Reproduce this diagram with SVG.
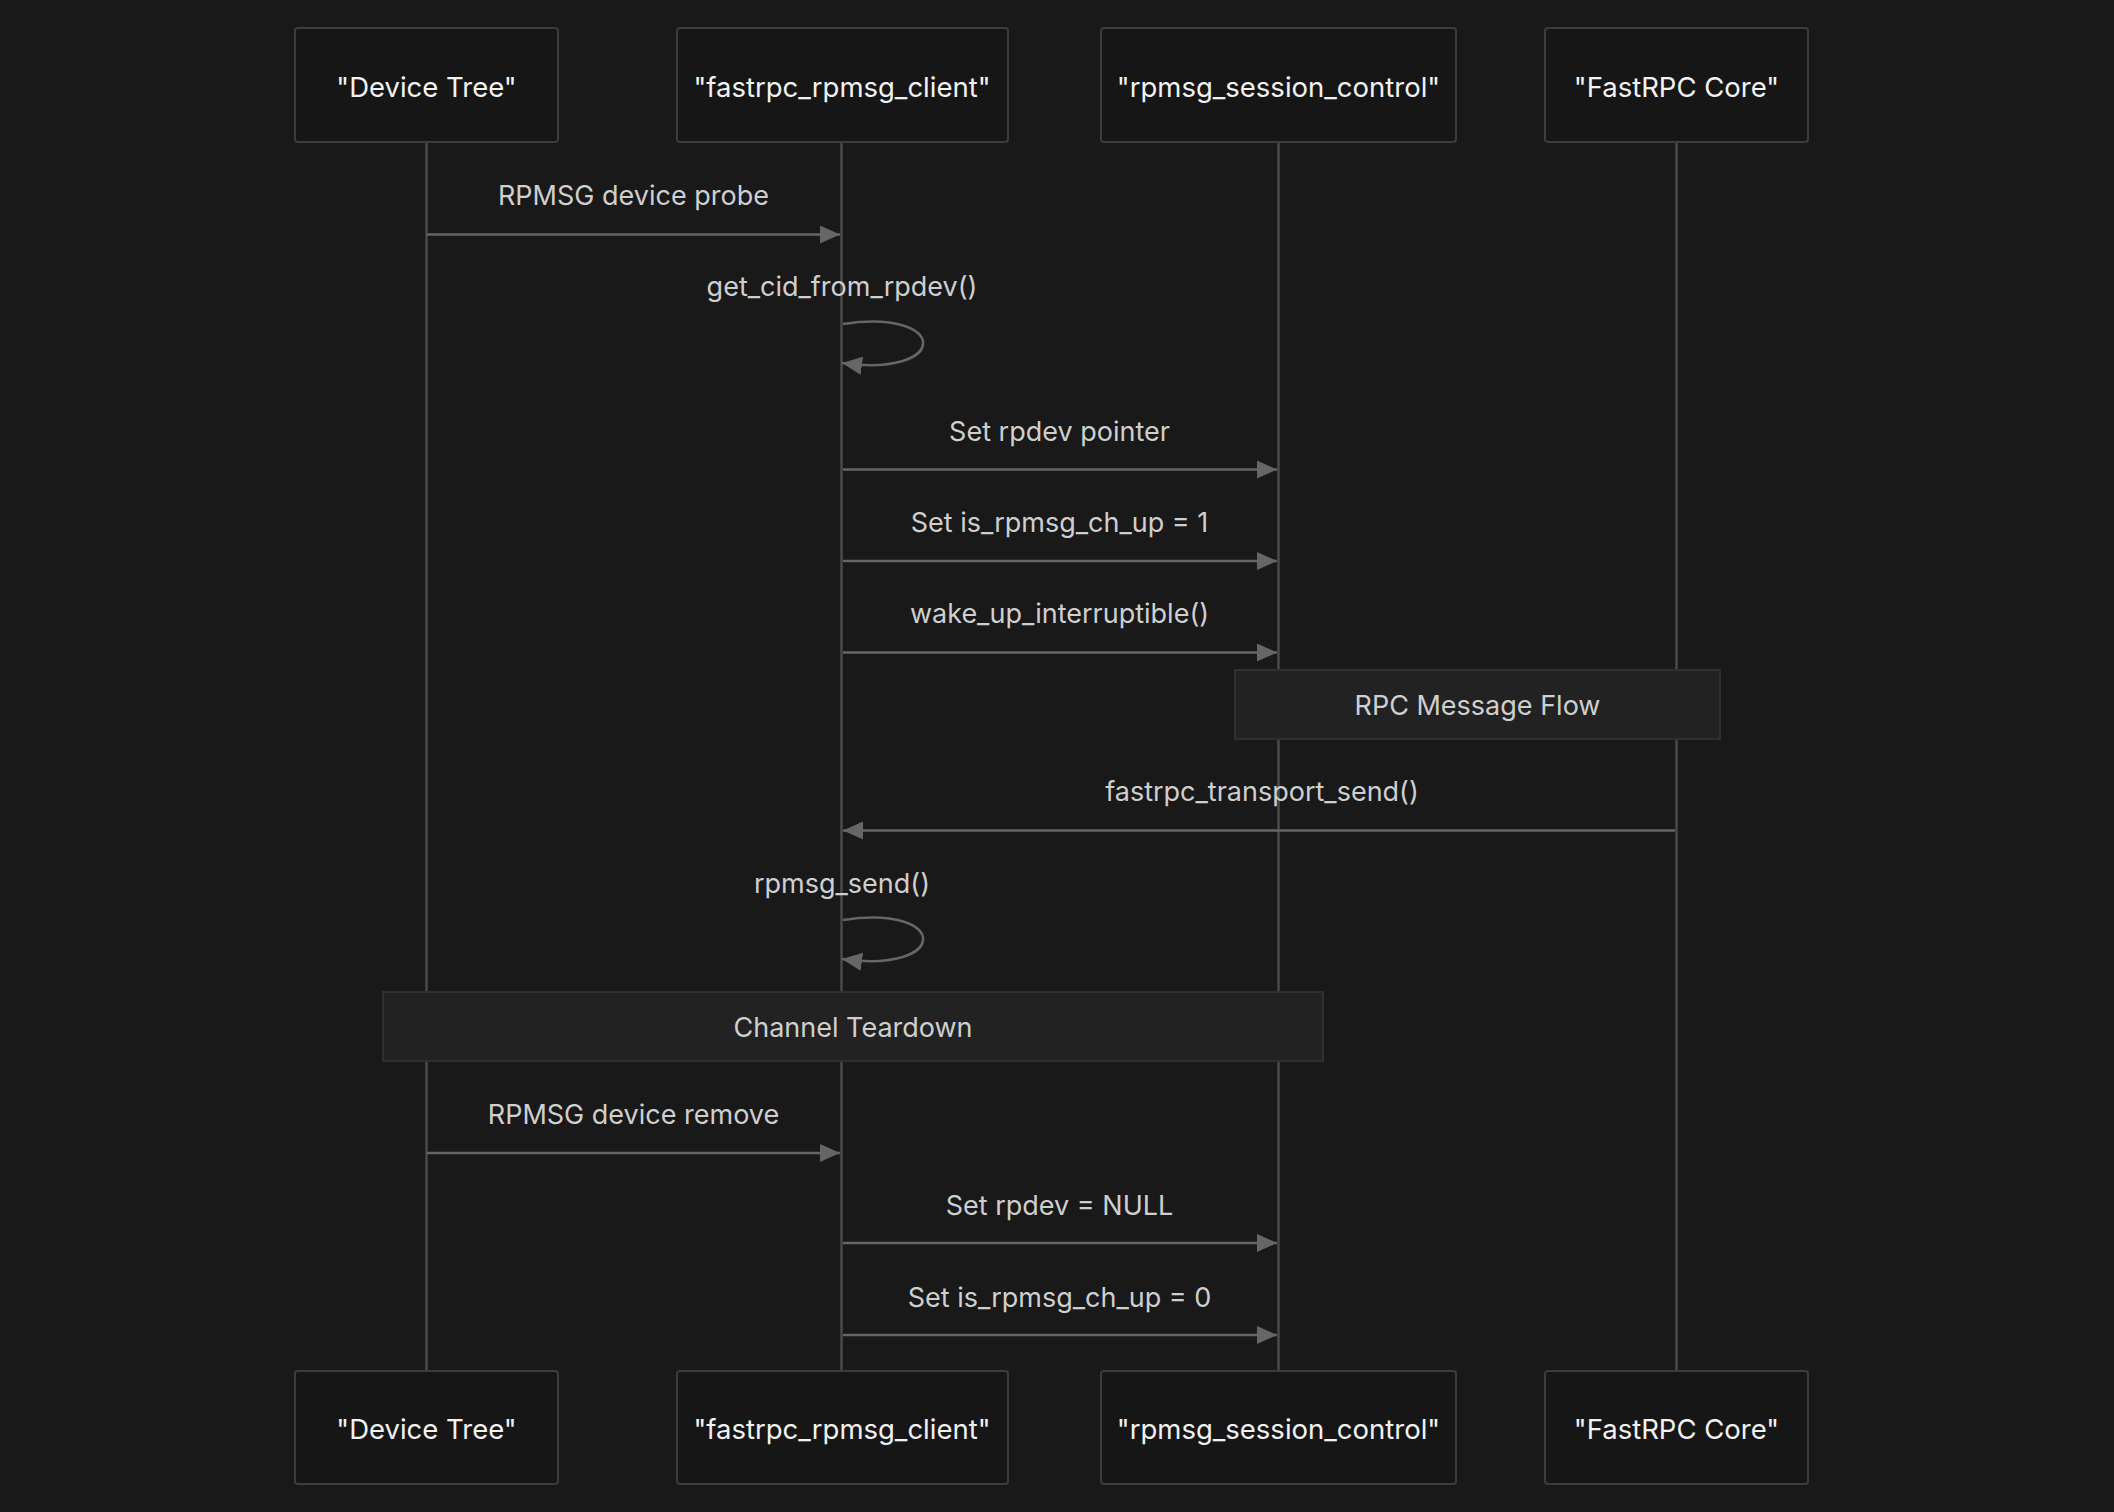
<svg xmlns="http://www.w3.org/2000/svg" width="2114" height="1512" viewBox="0 0 2114 1512">
<style>
.bg{fill:#191919}
.actor rect{fill:#161616;stroke:#3c3c3c;stroke-width:2}
.actor text{fill:#f2f2f2;font-family:Inter,"Noto Sans",sans-serif;font-size:27.5px;text-anchor:middle}
.life{stroke:#4a4a4a;stroke-width:2.5}
.msg{stroke:#666;stroke-width:2.5;fill:none}
.lbl{fill:#cfcfcf;font-family:Inter,"Noto Sans",sans-serif;font-size:27px;text-anchor:middle}
.note rect{fill:#222;stroke:#2f2f2f;stroke-width:2}
</style>
<defs>
<marker id="ah" markerUnits="userSpaceOnUse" markerWidth="22" markerHeight="20" refX="20" refY="9" orient="auto" viewBox="0 0 22 20">
<path d="M0,0 L20,9 L0,18 Z" fill="#666"/>
</marker>
</defs>
<rect class="bg" x="0" y="0" width="2114" height="1512"/>
<g id="lifelines">
<line class="life" x1="426.5" y1="142" x2="426.5" y2="1371"/>
<line class="life" x1="841.5" y1="142" x2="841.5" y2="1371"/>
<line class="life" x1="1278.5" y1="142" x2="1278.5" y2="1371"/>
<line class="life" x1="1676.5" y1="142" x2="1676.5" y2="1371"/>
</g>
<g id="note-rpc" class="note">
<rect x="1235" y="670" width="485" height="69"/>
<text class="lbl" x="1477.5" y="715">RPC Message Flow</text>
</g>
<g id="note-teardown" class="note">
<rect x="383" y="992" width="940" height="69"/>
<text class="lbl" x="853" y="1037">Channel Teardown</text>
</g>
<g id="actor-devicetree-top" class="actor">
<rect x="295" y="28" width="263" height="114" rx="3"/>
<text x="426.5" y="97">"Device Tree"</text>
</g>
<g id="actor-client-top" class="actor">
<rect x="677" y="28" width="331" height="114" rx="3"/>
<text x="842" y="97">"fastrpc_rpmsg_client"</text>
</g>
<g id="actor-session-top" class="actor">
<rect x="1101" y="28" width="355" height="114" rx="3"/>
<text x="1278.5" y="97">"rpmsg_session_control"</text>
</g>
<g id="actor-core-top" class="actor">
<rect x="1545" y="28" width="263" height="114" rx="3"/>
<text x="1676.5" y="97">"FastRPC Core"</text>
</g>
<g id="actor-devicetree-bottom" class="actor">
<rect x="295" y="1371" width="263" height="113" rx="3"/>
<text x="426.5" y="1439">"Device Tree"</text>
</g>
<g id="actor-client-bottom" class="actor">
<rect x="677" y="1371" width="331" height="113" rx="3"/>
<text x="842" y="1439">"fastrpc_rpmsg_client"</text>
</g>
<g id="actor-session-bottom" class="actor">
<rect x="1101" y="1371" width="355" height="113" rx="3"/>
<text x="1278.5" y="1439">"rpmsg_session_control"</text>
</g>
<g id="actor-core-bottom" class="actor">
<rect x="1545" y="1371" width="263" height="113" rx="3"/>
<text x="1676.5" y="1439">"FastRPC Core"</text>
</g>
<g id="connectors">
<line class="msg" x1="427" y1="234.5" x2="840" y2="234.5" marker-end="url(#ah)"/>
<path class="msg" d="M843,324 C950,308 950,378 842,363" marker-end="url(#ah)"/>
<line class="msg" x1="843" y1="469.5" x2="1277" y2="469.5" marker-end="url(#ah)"/>
<line class="msg" x1="843" y1="561" x2="1277" y2="561" marker-end="url(#ah)"/>
<line class="msg" x1="843" y1="652.5" x2="1277" y2="652.5" marker-end="url(#ah)"/>
<line class="msg" x1="1675" y1="830.5" x2="843" y2="830.5" marker-end="url(#ah)"/>
<path class="msg" d="M843,920 C950,904 950,974 842,959" marker-end="url(#ah)"/>
<line class="msg" x1="427" y1="1153" x2="840" y2="1153" marker-end="url(#ah)"/>
<line class="msg" x1="843" y1="1243" x2="1277" y2="1243" marker-end="url(#ah)"/>
<line class="msg" x1="843" y1="1335" x2="1277" y2="1335" marker-end="url(#ah)"/>
</g>
<g id="labels">
<text class="lbl" x="633.5" y="205">RPMSG device probe</text>
<text class="lbl" x="842" y="296">get_cid_from_rpdev()</text>
<text class="lbl" x="1059.5" y="441">Set rpdev pointer</text>
<text class="lbl" x="1059.5" y="532">Set is_rpmsg_ch_up = 1</text>
<text class="lbl" x="1059.5" y="623">wake_up_interruptible()</text>
<text class="lbl" x="1262" y="801">fastrpc_transport_send()</text>
<text class="lbl" x="842" y="893">rpmsg_send()</text>
<text class="lbl" x="633.5" y="1124">RPMSG device remove</text>
<text class="lbl" x="1059.5" y="1215">Set rpdev = NULL</text>
<text class="lbl" x="1059.5" y="1307">Set is_rpmsg_ch_up = 0</text>
</g>
</svg>
